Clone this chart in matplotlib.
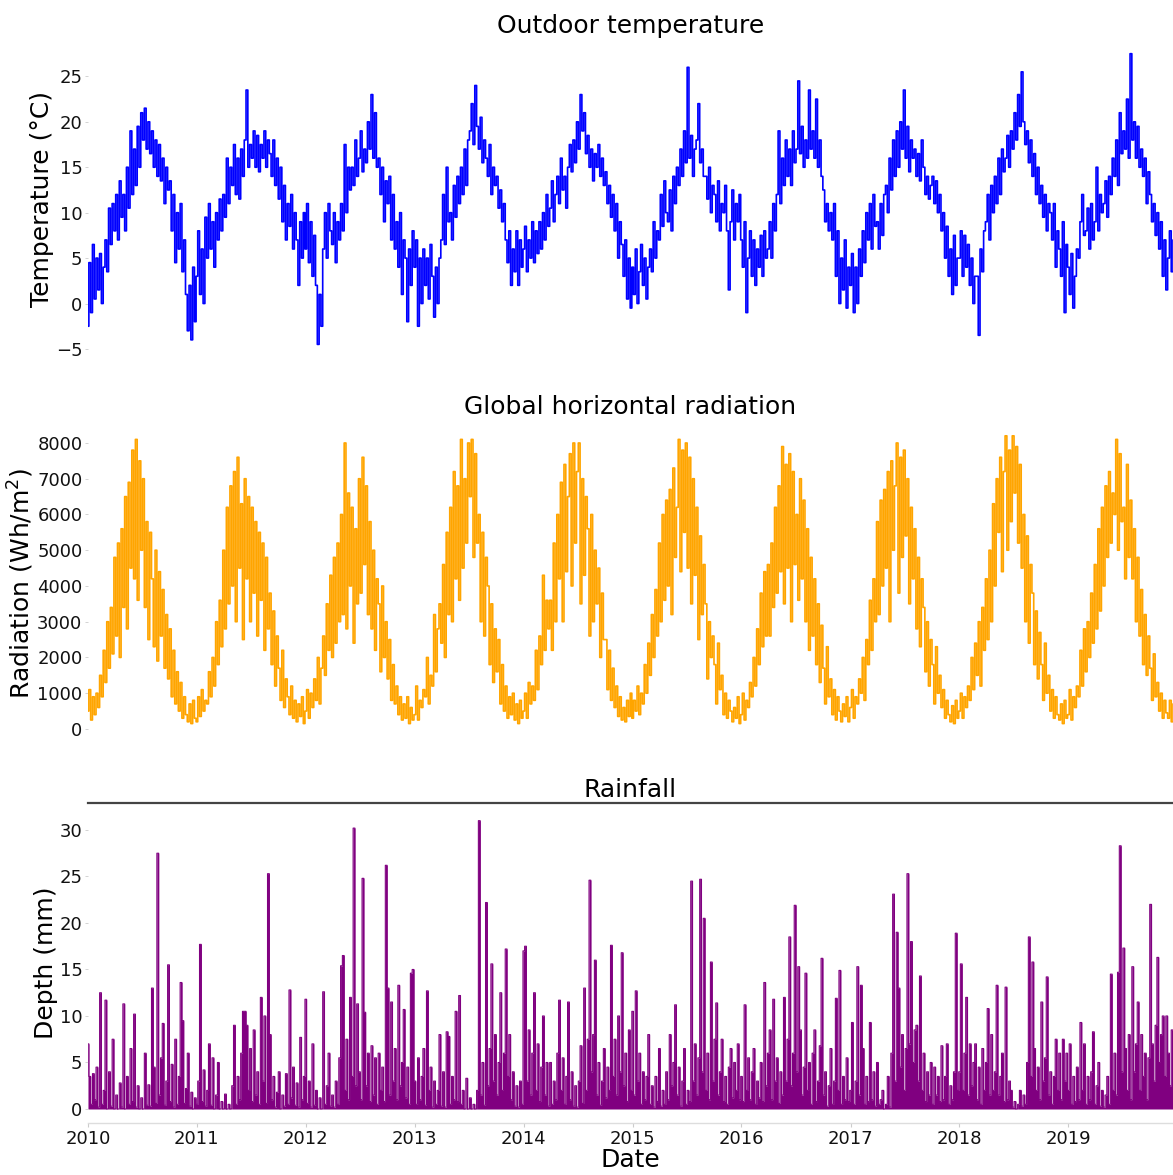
import matplotlib
matplotlib.use("Agg")
import matplotlib.pyplot as plt
import matplotlib.dates as mdates
import pandas as pd


YEARS = list(range(2010, 2020))
STEP_DAYS = 6
PER_YEAR = 61

# daily outdoor temperature (°C), one reading every 6 days, Jan..Dec per row block
TEMPERATURE = [
    # 2010
    -2.5, 4.5, -1, 6.5, 0.5, 5, 1.5, 5.5, 0, 4,
    7, 3.5, 10.5, 6.5, 11, 8, 12, 7, 13.5, 9.5,
    12, 8, 15, 10.5, 19, 12, 17, 13, 19.5, 15, 21,
    18, 21.5, 17, 20, 16.5, 19, 15, 18, 14, 17.5,
    13.5, 16, 11, 15, 12.5, 13.5, 8, 12, 4.5, 10,
    6, 11, 3.5, 7, 1, -3, 2, -4, 4, -2,
    # 2011
    3, 8, 1, 6, 0, 9.5, 5, 11, 6, 9,
    4, 10, 7, 11.5, 8, 12, 9.5, 16, 11, 15,
    13, 17.5, 12, 16, 11.5, 17, 14, 18, 23.5, 15, 17.5,
    16, 19, 15, 18.5, 14.5, 17.5, 16, 19, 15, 18,
    16.5, 14, 18, 13, 16, 11.5, 15, 9, 13, 7,
    11, 8.5, 12, 6, 10, 7, 2, 9, 5, 10,
    # 2012
    6, 11, 4.5, 9, 3, 7.5, 2, -4.5, 1, -2.5,
    6, 10, 5, 11, 8, 6.5, 10, 4.5, 9, 7,
    11, 8, 17.5, 10, 15, 12.5, 15, 13, 18, 14, 16,
    19, 14.5, 17, 15.5, 20, 17, 23, 16, 21, 15,
    16, 12, 15, 9, 13.5, 11, 14, 7, 12, 6,
    9, 4, 10, 1, 7, 5, -2, 6, 2, 8,
    # 2013
    4, 7, -2.5, 5, 0, 6, 2, 5, 0.5, 6.5,
    3, -1.5, 4, 0, 5, 7, 12, 6.5, 15, 9,
    10, 7, 13, 9.5, 14, 11, 15, 12, 17, 13, 18,
    19, 22, 17.5, 24, 19.5, 17, 20.5, 15.5, 18, 16,
    14, 17.5, 12, 15, 13, 14, 10.5, 12.5, 9, 11,
    7, 4.5, 8, 2, 6, 3.5, 8, 2, 7, 4,
    # 2014
    6, 8.5, 3.5, 7, 5, 9, 4.5, 8, 5.5, 9,
    6, 10, 7, 12, 8.5, 10.5, 13.5, 9, 12, 14,
    11, 16, 12.5, 14, 10.5, 15, 17.5, 14.5, 18, 15.5, 20,
    17, 23, 19, 21, 16.5, 18.5, 15, 17, 13.5, 16.5,
    15, 17.5, 14, 16, 13, 14.5, 11, 13, 9.5, 12,
    8, 11, 5, 9, 6.5, 3, 7, 0.5, 5, -0.5,
    # 2015
    4, 1, 6, 0, 3.5, 6.5, 2, 5, 0.5, 4,
    6, 3.5, 9, 5, 8, 7, 12, 8.5, 13.5, 10,
    9, 12.5, 8, 14, 11, 15, 13, 17, 14, 19, 15.5,
    26, 16, 18.5, 14, 17, 18, 22, 15.5, 17, 14,
    14, 11.5, 15, 10, 13, 12, 9, 13.5, 8, 11,
    10, 13, 8, 1.5, 9, 12.5, 7, 11, 9, 12,
    # 2016
    7, 4, 9, -1, 5, 8, 3, 7, 2, 6,
    4, 7.5, 3, 8, 5, 6, 9, 5, 11, 8,
    12, 19, 11, 16, 13, 18, 14, 17, 13, 19, 15.5,
    17, 24.5, 16.5, 19.5, 15, 18, 16, 23.5, 17, 19,
    16, 22.5, 15, 18, 14, 12.5, 9, 11, 8, 10,
    7, 11, 3, 8, 0, 5, 1.5, 7, -0.5, 4,
    # 2017
    2, 5.5, -1, 4, 0, 6, 3, 8, 4.5, 10,
    7, 11, 6, 12, 8.5, 9, 6, 11, 7.5, 12,
    13, 10, 16, 12.5, 18, 14, 19, 15, 20, 17, 23.5,
    16, 19.5, 14.5, 18, 16, 17, 14, 16.5, 13.5, 18,
    15, 12, 14, 11.5, 13, 14, 11, 13.5, 10, 12,
    8, 10, 5, 8.5, 3, 6, 1, 7.5, 2, 5,
    # 2018
    5, 8, 3, 7.5, 4, 6.5, 2, 5, 0, 3,
    3, -3.5, 6, 3.5, 8, 9, 12, 7, 13, 10,
    14, 11, 16, 12, 17, 14.5, 16, 18.5, 15, 19, 17,
    21, 18, 23, 19.5, 25.5, 20, 17.5, 19, 15.5, 18,
    14, 16.5, 12, 15, 11, 13, 9.5, 12, 8, 11,
    10, 7, 11, 4, 8, 6, 3, 9, -1, 6.5,
    # 2019
    4, 1, 5.5, -0.5, 3, 6, 5, 9, 12, 7.5,
    8, 10.5, 6, 11, 7, 9, 15, 8, 12, 10,
    11, 13.5, 9.5, 14, 12, 16, 14, 18, 13, 21, 16.5,
    19, 17, 22.5, 16, 27.5, 18, 20, 16, 19.5, 15,
    17, 14, 16, 11, 14.5, 12, 9, 11, 7.5, 10,
    6, 9, 3, 7, 1.5, 5, 8, 3.5, 7, 4,
]

# global horizontal radiation (Wh/m²), same sampling
RADIATION = [
    # 2010
    500, 1100, 250, 900, 400, 1000, 600, 1500, 900, 2200,
    1300, 3000, 1700, 3400, 2100, 4800, 2600, 5200, 2000, 5600,
    3400, 6500, 2800, 6900, 4500, 7800, 4200, 8100, 3600, 7500, 5000,
    7000, 3400, 5800, 2500, 5500, 4200, 2300, 5000, 1900, 4400,
    2600, 3900, 1700, 3200, 1400, 2800, 900, 2200, 700, 1600,
    500, 1300, 300, 900, 400, 200, 700, 150, 800, 300,
    # 2011
    200, 900, 350, 1100, 500, 800, 700, 1600, 900, 2000,
    1200, 3000, 1800, 3600, 2300, 5000, 2800, 6200, 3500, 6800,
    4000, 7200, 3000, 7600, 4500, 6300, 2500, 7000, 4200, 6500, 3000,
    6200, 3800, 5800, 2600, 5500, 3600, 5200, 2200, 4800, 2800,
    3800, 1800, 3300, 1200, 2600, 1700, 800, 2200, 600, 1400,
    900, 400, 1200, 300, 800, 200, 700, 350, 900, 150,
    # 2012
    500, 1100, 300, 1000, 600, 1400, 800, 2000, 700, 1700,
    2600, 1500, 3500, 2200, 4300, 2000, 4800, 2400, 5200, 3000,
    6000, 3200, 8000, 2800, 6600, 4000, 6200, 2400, 5600, 3500, 7000,
    3800, 7600, 4600, 6800, 3200, 5800, 2800, 5000, 2200, 4200,
    3500, 1600, 4000, 2000, 3000, 1400, 2500, 800, 1800, 700,
    1200, 400, 900, 250, 700, 300, 900, 150, 600, 250,
    # 2013
    400, 1200, 250, 800, 600, 1100, 900, 2000, 700, 1500,
    1200, 3200, 1600, 2800, 3500, 2400, 4600, 2000, 5500, 3200,
    6200, 3000, 7200, 4200, 6800, 3600, 8100, 4500, 7000, 5200, 8000,
    6500, 8100, 4800, 7700, 5200, 6000, 3000, 5500, 2600, 4800,
    4000, 1800, 3500, 1300, 2800, 1600, 2500, 700, 1800, 500,
    1200, 300, 900, 400, 1000, 250, 700, 150, 800, 300,
    # 2014
    500, 1000, 300, 1300, 700, 1200, 800, 2200, 1100, 2600,
    1800, 4300, 2200, 3600, 2800, 3600, 2200, 5200, 3000, 6000,
    4200, 6900, 3000, 7400, 4400, 6500, 7700, 4000, 8000, 5200, 7200,
    8000, 3500, 7000, 4300, 6500, 5600, 2600, 6000, 3000, 5000,
    3500, 4500, 2000, 3800, 2500, 2500, 1100, 2200, 800, 1700,
    600, 1200, 350, 900, 250, 600, 200, 800, 350, 1000,
    # 2015
    300, 800, 500, 1200, 400, 1000, 700, 1800, 1000, 2400,
    1500, 3200, 2000, 3900, 2600, 5200, 3000, 6000, 3600, 6400,
    4000, 6700, 3200, 7300, 4800, 6200, 8100, 4400, 7800, 5500, 8000,
    4500, 7600, 3500, 7000, 4300, 6200, 2500, 5400, 3200, 4600,
    3500, 1400, 3000, 2000, 2600, 1800, 700, 2400, 1100, 1500,
    400, 1000, 300, 800, 500, 200, 600, 300, 900, 150,
    # 2016
    400, 1000, 250, 800, 600, 1300, 900, 2000, 1200, 2800,
    1800, 3800, 2300, 4400, 2600, 4600, 2600, 5200, 3400, 6200,
    3800, 6800, 4400, 7900, 3500, 7400, 4500, 7700, 3000, 7200, 4600,
    6000, 3600, 7000, 4200, 6400, 3000, 5600, 2200, 4800, 2600,
    4200, 1800, 3500, 1300, 2900, 1700, 700, 2300, 900, 1400,
    400, 1100, 250, 900, 500, 200, 700, 350, 900, 200,
    # 2017
    600, 1100, 300, 900, 700, 1400, 1000, 2000, 800, 2500,
    1800, 3600, 2200, 4200, 3000, 5800, 3200, 6400, 4000, 6700,
    4500, 7200, 3000, 7500, 5000, 6800, 8000, 3800, 7600, 4800, 7800,
    5400, 7000, 3500, 6200, 4200, 5600, 2800, 4800, 2300, 4200,
    3400, 1600, 3000, 1200, 2500, 1800, 700, 2300, 1000, 1500,
    600, 1100, 300, 800, 400, 200, 650, 150, 800, 300,
    # 2018
    500, 1000, 300, 900, 600, 1200, 800, 2000, 1100, 2400,
    1500, 3000, 1200, 3400, 2200, 4200, 2500, 5000, 3000, 6300,
    4000, 7000, 5500, 7600, 4400, 7200, 8200, 5000, 7800, 5800, 8200,
    6600, 7900, 5200, 7400, 4500, 6000, 3000, 5400, 2400, 4600,
    3800, 1800, 3300, 1400, 2700, 1800, 800, 2400, 1000, 1500,
    500, 1100, 300, 900, 400, 250, 700, 150, 800, 300,
    # 2019
    400, 1100, 250, 900, 600, 1200, 900, 2200, 1200, 2800,
    1600, 3000, 2000, 3800, 2400, 4600, 2800, 5600, 3300, 6200,
    4000, 6800, 4800, 7200, 5200, 6600, 6000, 8100, 5000, 7700, 5800,
    6200, 4200, 7400, 4800, 6400, 4200, 5600, 3000, 4800, 2600,
    3900, 1800, 3200, 1500, 2600, 1700, 800, 2100, 900, 1300,
    500, 1000, 300, 800, 450, 300, 800, 200, 700, 400,
]

# rainfall depth (mm), same sampling
RAINFALL = [
    # 2010
    7, 3.5, 0.5, 3.8, 1, 4.5, 0.2, 12.5, 0.5, 2,
    11.7, 0, 4, 0.3, 7.5, 0, 1.5, 0, 2.8, 0.2,
    11.3, 0, 3.5, 0.5, 6.5, 0.8, 10.2, 0.2, 2.5, 0, 1.2,
    0, 6, 0.4, 2.6, 0.3, 13, 4.5, 0.6, 27.5, 1.5,
    5.5, 9.2, 0.4, 3, 15.5, 0.8, 4.8, 0.2, 7.5, 0.5,
    3.5, 13.6, 9.5, 0.6, 2.2, 6, 0.3, 1.8, 0, 1.2,
    # 2011
    0.5, 3, 17.7, 0.8, 4.2, 0.3, 2, 7, 0.4, 5.5,
    0, 1.5, 5, 0, 0.8, 0, 1.6, 0, 0.5, 0,
    2.5, 9, 0.5, 3.5, 1, 6, 10.5, 10.5, 9, 2, 6.5,
    0.8, 8.5, 1.5, 4, 0.5, 12, 3, 10, 0.6, 25.3,
    8, 1, 3.5, 0.2, 1.8, 4, 0, 1.5, 0.3, 3.8,
    0.5, 12.8, 1.2, 4.5, 0.4, 2.8, 0.2, 7.7, 1, 3.5,
    # 2012
    11.8, 0.6, 3, 0.2, 7, 0.4, 2, 0, 1.2, 0,
    12.6, 0.5, 2.5, 6, 0.3, 1.5, 0.2, 3, 0.5, 5.5,
    15.4, 16.5, 2, 7.5, 1, 12, 3.5, 30.2, 2.5, 11.3, 4,
    1, 24.8, 10.4, 2.5, 6, 0.8, 6.8, 1.5, 5.5, 0.5,
    6, 2, 4.5, 0.8, 26.2, 13, 1.5, 11.5, 3, 6.5,
    1, 13.3, 2.5, 5, 10.7, 1.2, 4.5, 0.5, 14.6, 15,
    # 2013
    3, 0.5, 5.5, 1, 3.5, 6.5, 0.4, 12.7, 2, 4.5,
    0.2, 3, 0.5, 2, 8, 0.3, 4, 0.2, 8.3, 7.8,
    0.5, 3.5, 1, 10.5, 0.8, 12.2, 0.5, 2, 0, 3.3, 0,
    1.2, 0, 0.5, 0, 2, 31, 1.5, 5, 0.4, 22.2,
    2.5, 6.5, 15.6, 3, 8, 1.5, 5, 12.5, 2, 6,
    17.2, 3.5, 8, 1, 4, 0.3, 2.5, 0.2, 3, 0.5,
    # 2014
    17, 17.5, 3, 8.5, 1.5, 6, 12.5, 2, 7, 0.8,
    4.5, 10, 1.5, 5, 0.3, 5, 0.5, 3, 1, 6,
    11.7, 2, 5.5, 0.5, 3.5, 11.5, 1, 4, 0.3, 2.5, 0.2,
    3, 6.8, 0.6, 13, 2, 7.5, 24.6, 4, 8, 16,
    1.5, 5, 0.4, 3, 6.5, 1.2, 4.5, 2, 17.6, 3.5,
    7.5, 1.5, 10, 4, 16.8, 2.5, 6, 0.8, 8.5, 2,
    # 2015
    10.5, 1.5, 12.7, 3, 6, 0.5, 4, 1, 3.5, 8,
    0.5, 2.5, 0.2, 3.5, 0.8, 6.5, 0.3, 2, 0.5, 4,
    1, 8, 2.5, 5, 11.2, 1.5, 4.5, 0.3, 3, 6.5, 0.5,
    2, 0.8, 24.5, 3, 7, 1.5, 5.5, 24.7, 4, 20.5,
    2, 6, 1, 15.8, 3, 7.5, 11.4, 1.5, 4, 7.5,
    0.8, 3.5, 0.5, 4.5, 6.5, 1.2, 5, 2, 7, 1,
    # 2016
    3.5, 0.8, 11.2, 2, 5.5, 1, 4, 6.5, 0.5, 3,
    1.2, 5, 0.8, 13.6, 2.5, 6, 8.5, 1, 11.8, 3,
    5.5, 0.6, 4, 1.5, 12, 3, 7.5, 18.5, 2.5, 6, 21.9,
    4, 15.3, 8.5, 1.5, 4.5, 14.6, 2, 5, 0.5, 6,
    8.5, 0.8, 3, 6.8, 16.2, 1.5, 4, 0.3, 2.5, 6.5,
    0.5, 3, 11.9, 2, 14.9, 0.5, 3.5, 1, 5.5, 0.8,
    # 2017
    2, 9.3, 0.5, 3, 15.3, 1.5, 13.3, 6.5, 0.5, 3.5,
    0.8, 9.3, 1, 4, 0.3, 5, 0.5, 1, 2, 0,
    0.5, 3.5, 0.2, 6, 23.1, 3, 19, 13, 4.5, 8, 2,
    6.5, 25.3, 7, 18, 5, 8.5, 9, 3, 14.3, 2,
    6, 0.8, 4, 1.5, 5, 0.5, 4.5, 1.5, 3.5, 0.8,
    6.8, 1, 3.5, 7, 0.5, 2.5, 1, 4, 18.9, 2,
    # 2018
    4, 15.6, 2, 6, 12, 1.5, 7, 2.5, 5, 7,
    1, 4.5, 0.5, 6.5, 2, 5, 10.8, 1.5, 8, 2,
    4, 13.3, 1.5, 3.5, 6, 0.8, 13.1, 1, 3, 2, 0.2,
    0.8, 0, 0.5, 2, 0.3, 1.5, 0.5, 5, 18.5, 3.5,
    15.8, 6.5, 2, 4.5, 1, 11.5, 3, 5.5, 14.2, 1.5,
    4, 0.5, 3.5, 7.5, 2, 6, 1, 7.5, 3, 6,
    # 2019
    2, 7, 0.5, 3.5, 0.8, 4.5, 1, 9.3, 2, 7,
    0.5, 3.5, 1, 4, 8.3, 0.5, 2.5, 5, 0.3, 2,
    0.2, 1.5, 3.5, 0.5, 14.5, 2, 6, 1.5, 14.7, 28.3, 4,
    17.3, 6.5, 2, 8, 1, 15.3, 4, 7, 11.5, 2,
    8, 3.5, 6, 1, 5.5, 22, 7, 3, 9, 16.3,
    5, 8, 10, 3.5, 10, 6, 2.5, 8.5, 6, 14,
]

PANELS = [
    ("Outdoor temperature", "Temperature (°C)", TEMPERATURE, "blue",
     (-6, 29), list(range(-5, 30, 5)), 1.2),
    ("Global horizontal radiation", "Radiation (Wh/m$^2$)", RADIATION, "orange",
     (-336, 8503), list(range(0, 8001, 1000)), 1.2),
    ("Rainfall", "Depth (mm)", RAINFALL, "purple",
     (-1.5, 32.9), list(range(0, 31, 5)), 0.8),
]

# axes boxes in figure fractions [left, bottom, width, height]
BOXES = [
    [0.075, 0.6953, 0.925, 0.2706],
    [0.075, 0.3694, 0.925, 0.2689],
    [0.075, 0.0443, 0.925, 0.2723],
]
TITLE_PADS = [5, 8, 4]


def sample_dates():
    parts = [pd.date_range(f"{y}-01-01", periods=PER_YEAR, freq=f"{STEP_DAYS}D")
             for y in YEARS]
    return parts[0].append(parts[1:])


def main():
    dates = sample_dates()
    for panel in PANELS:
        assert len(panel[2]) == len(dates), len(panel[2])

    fig = plt.figure(figsize=(11.73, 11.75), dpi=100)
    xmin = pd.Timestamp("2010-01-01")
    xmax = pd.Timestamp("2019-12-18")

    axes = []
    for (title, ylabel, values, color, ylim, yticks, lw), box, pad in zip(PANELS, BOXES, TITLE_PADS):
        ax = fig.add_axes(box)
        # step drawing keeps each reading as a near-vertical stroke
        ax.plot(dates, values, color=color, linewidth=lw, drawstyle="steps-mid")
        ax.set_xlim(xmin, xmax)
        ax.set_ylim(*ylim)
        ax.set_yticks(yticks)
        ax.set_title(title, fontsize=18, pad=pad)
        ax.set_ylabel(ylabel, fontsize=18, labelpad=1)
        for side in ("top", "right", "left", "bottom"):
            ax.spines[side].set_visible(False)
        ax.tick_params(axis="y", labelsize=13, length=2, width=0.6,
                       color="#cccccc", pad=2, labelcolor="#111111")
        ax.xaxis.set_major_locator(mdates.YearLocator())
        ax.xaxis.set_major_formatter(mdates.DateFormatter("%Y"))
        ax.tick_params(axis="x", length=0, labelbottom=False)
        axes.append(ax)

    # rainfall reads as a filled mass of daily spikes
    ax = axes[-1]
    ax.fill_between(dates, RAINFALL, 0, step="mid", color="purple", linewidth=0)

    # bottom panel carries the shared date axis and a dark top rule
    ax.spines["top"].set_visible(True)
    ax.spines["top"].set_color("#444444")
    ax.spines["top"].set_linewidth(1.6)
    ax.spines["bottom"].set_visible(True)
    ax.spines["bottom"].set_color("#dddddd")
    ax.spines["bottom"].set_linewidth(1.0)
    ax.tick_params(axis="x", labelbottom=True, labelsize=13, length=3,
                   color="#cccccc", pad=2, labelcolor="#111111")
    ax.set_xlabel("Date", fontsize=18, labelpad=0)

    fig.savefig("out.png", dpi=100)


if __name__ == "__main__":
    main()
